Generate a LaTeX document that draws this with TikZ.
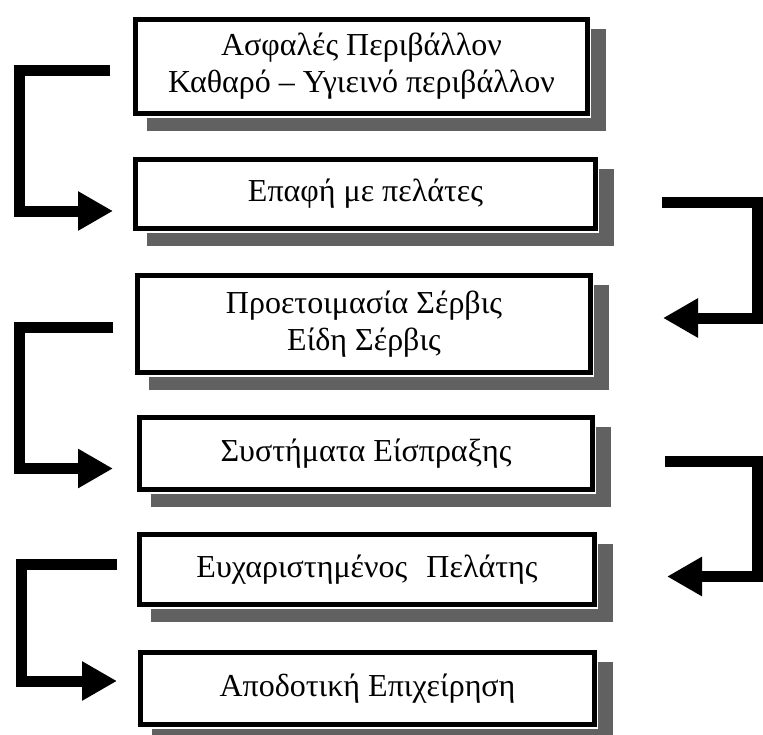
\documentclass[tikz,border=0pt]{standalone}
\usepackage{fontspec}
\setmainfont{Liberation Serif}
\usetikzlibrary{arrows.meta,calc}
\begin{document}
\begin{tikzpicture}[x=1pt,y=-1pt,
  stagebox/.style={draw=black,line width=5pt,fill=white,inner sep=0pt,
    font=\fontsize{32}{37}\selectfont,align=center},
  shadowc/.style={fill=black!62},
  conn/.style={line width=11pt,line join=miter,line cap=butt,
    -{Triangle[length=35pt,width=37pt]}}]
\useasboundingbox (0,0) rectangle (763,734);
\fill[white] (0,0) rectangle (763,734);
\node[stagebox,minimum width=452pt,minimum height=94pt] (b1) at (361.5,66.5)
  {Ασφαλές Περιβάλλον\\Καθαρό -- Υγιεινό περιβάλλον};
\node[stagebox,minimum width=460pt,minimum height=69pt] (b2) at (365.5,194)
  {Επαφή με πελάτες};
\node[stagebox,minimum width=453pt,minimum height=97pt] (b3) at (364,324)
  {Προετοιμασία Σέρβις\\Είδη Σέρβις};
\node[stagebox,minimum width=453pt,minimum height=72pt] (b4) at (366,453.5)
  {Συστήματα Είσπραξης};
\node[stagebox,minimum width=455pt,minimum height=70pt] (b5) at (367,569.5)
  {Ευχαριστημένος\hspace{0.35em} Πελάτης};
\node[stagebox,minimum width=454pt,minimum height=72pt] (b6) at (367.5,688.5)
  {Αποδοτική Επιχείρηση};
\foreach \b in {b1,b2,b3,b4,b5,b6}{
  \fill[shadowc] ($(\b.south west)+(14,2)$) rectangle ($(\b.south east)+(16,15)$);
  \fill[shadowc] ($(\b.north east)+(1,12)$) rectangle ($(\b.south east)+(16,15)$);
}
\draw[conn] ($(b1.west)+(-23,3.5)$) -- ++(-90.5,0) |- ($(b2.west)+(-20,17)$);
\draw[conn] ($(b2.east)+(64,8)$) -- ++(95.5,0) |- ($(b3.east)+(70,-6)$);
\draw[conn] ($(b3.west)+(-22,3.5)$) -- ++(-94,0) |- ($(b4.west)+(-24,15)$);
\draw[conn] ($(b4.east)+(70,7.5)$) -- ++(92,0) |- ($(b5.east)+(70,7)$);
\draw[conn] ($(b5.west)+(-20,-5.5)$) -- ++(-96,0) |- ($(b6.west)+(-21,-7.5)$);
\end{tikzpicture}
\end{document}
